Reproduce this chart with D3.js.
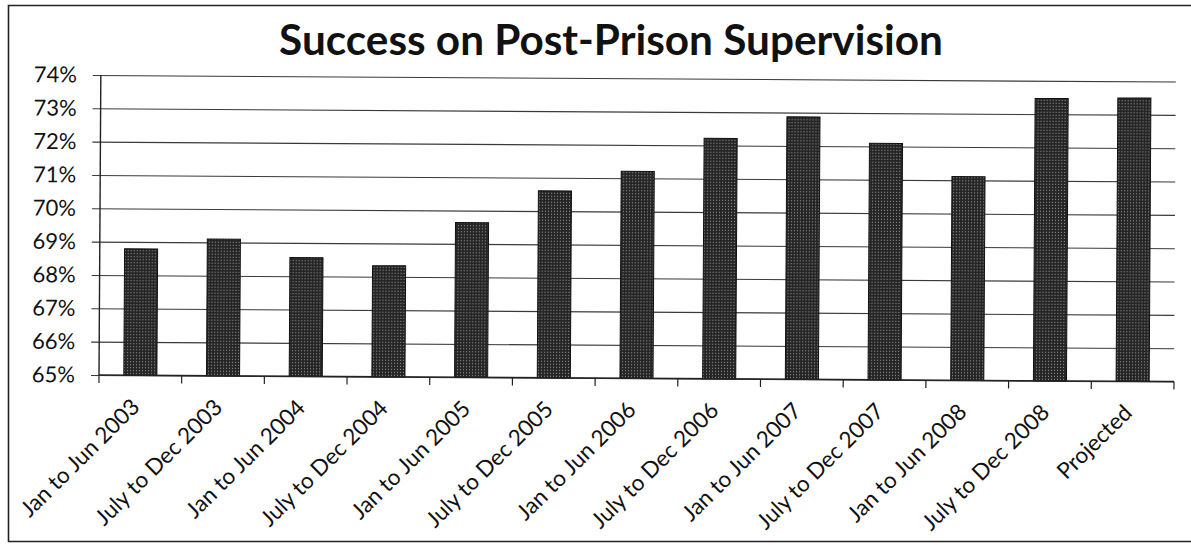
<!DOCTYPE html>
<html>
<head>
<meta charset="utf-8">
<script src="https://cdn.jsdelivr.net/npm/d3@7/dist/d3.min.js"></script>
<style>
  html, body { margin: 0; padding: 0; background: #fff; }
  svg { display: block; }
  text { font-family: Lato, "Open Sans", sans-serif; fill: #111; }
</style>
</head>
<body>
<svg id="chart" width="1191" height="545"></svg>
<script>
// Half-year periods on the x axis
const categories = [
  "Jan to Jun 2003", "July to Dec 2003", "Jan to Jun 2004", "July to Dec 2004",
  "Jan to Jun 2005", "July to Dec 2005", "Jan to Jun 2006", "July to Dec 2006",
  "Jan to Jun 2007", "July to Dec 2007", "Jan to Jun 2008", "July to Dec 2008",
  "Projected"
];
// Success rate (%) for each period
const successRate = [
  68.79, 69.10, 68.56, 68.33, 69.64, 70.61, 71.21, 72.21,
  72.87, 72.09, 71.11, 73.47, 73.50
];
// Y axis ticks (%)
const yTicks = [65, 66, 67, 68, 69, 70, 71, 72, 73, 74];
const titleText = "Success on Post-Prison Supervision";

const svg = d3.select("#chart");
const W = 1191, H = 545;
const plot = { left: 99, right: 1174, top: 75, bottom: 375 };

// Outer chart frame (top, left and bottom edges; the right edge runs off the page)
const frame = svg.append("path")
  .attr("d", `M${W},5.5 H8.5 V541.5 H${W}`)
  .attr("fill", "none").attr("stroke", "#222").attr("stroke-width", 1.6);

// Halftone-style fill for the bars
const defs = svg.append("defs");
const pat = defs.append("pattern")
  .attr("id", "barFill").attr("patternUnits", "userSpaceOnUse")
  .attr("width", 3).attr("height", 3);
pat.append("rect").attr("width", 3).attr("height", 3).attr("fill", "#262626");
pat.append("rect").attr("x", 1).attr("y", 1).attr("width", 1).attr("height", 1).attr("fill", "#9a9a9a");

// Title
const title = svg.append("text")
  .attr("x", 611).attr("y", 55)
  .attr("text-anchor", "middle")
  .attr("font-weight", 700)
  .attr("font-size", 40)
  .text(titleText);
const tw = title.node().getComputedTextLength();
title.attr("font-size", 40 * 664 / tw);

const x = d3.scaleBand()
  .domain(categories)
  .range([plot.left, plot.right])
  .paddingInner(0.6)
  .paddingOuter(0.3);

const y = d3.scaleLinear()
  .domain([65, 74])
  .range([plot.bottom, plot.top]);

// Plot area sits very slightly rotated, as on the printed page
const g = svg.append("g")
  .attr("transform", `rotate(0.35, ${plot.left}, ${plot.bottom})`);

// Gridlines with left tick marks
const yAxis = d3.axisLeft(y)
  .tickValues(yTicks)
  .tickSize(-(plot.right - plot.left))
  .tickFormat(d => d + "%");
const ya = g.append("g")
  .attr("transform", `translate(${plot.left},0)`)
  .call(yAxis);
ya.select(".domain").remove();
ya.selectAll(".tick line")
  .attr("x1", -8)
  .attr("stroke", "#3a3a3a").attr("stroke-width", 1.1);
ya.selectAll(".tick text")
  .attr("x", -24)
  .attr("font-size", 22)
  .attr("font-family", "Lato, sans-serif")
  .attr("fill", "#111");

// Bars
g.selectAll("rect.bar")
  .data(successRate)
  .join("rect")
  .attr("class", "bar")
  .attr("x", (d, i) => x(categories[i]))
  .attr("y", d => y(d))
  .attr("width", x.bandwidth())
  .attr("height", d => y(65) - y(d))
  .attr("fill", "url(#barFill)")
  .attr("stroke", "#111").attr("stroke-width", 1);

// Vertical axis line
g.append("line")
  .attr("x1", plot.left).attr("x2", plot.left)
  .attr("y1", y(65)).attr("y2", y(74))
  .attr("stroke", "#222").attr("stroke-width", 1.4);

// Horizontal axis with ticks at category boundaries
g.append("line")
  .attr("x1", plot.left).attr("x2", plot.right)
  .attr("y1", y(65)).attr("y2", y(65))
  .attr("stroke", "#222").attr("stroke-width", 1.4);
const step = x.step();
const boundaries = d3.range(categories.length + 1).map(i => plot.left + i * step);
g.selectAll("line.xtick")
  .data(boundaries)
  .join("line")
  .attr("class", "xtick")
  .attr("x1", d => d).attr("x2", d => d)
  .attr("y1", y(65)).attr("y2", y(65) + 8)
  .attr("stroke", "#222").attr("stroke-width", 1.2);

// Rotated category labels
g.selectAll("text.xlab")
  .data(categories)
  .join("text")
  .attr("class", "xlab")
  .attr("text-anchor", "end")
  .attr("font-size", 22.5)
  .attr("transform", d => {
    const cx = x(d) + x.bandwidth() / 2 + 1;
    return `translate(${cx},${y(65) + 33}) rotate(-45)`;
  })
  .text(d => d);
</script>
</body>
</html>
